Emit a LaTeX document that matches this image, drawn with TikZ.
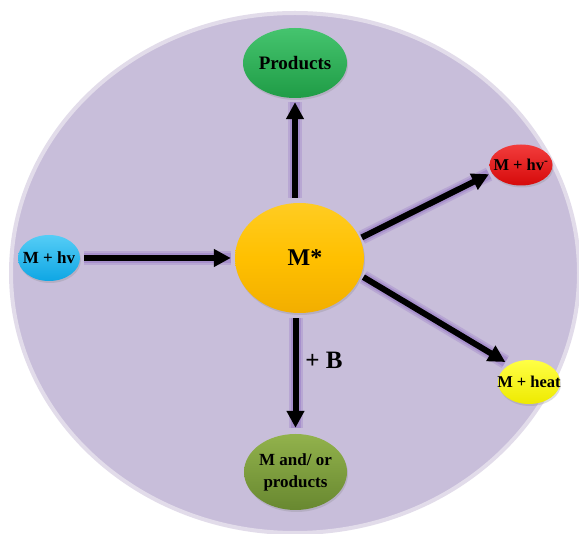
\documentclass[tikz,border=0pt]{standalone}
\usepackage{fontspec}
\setmainfont{Liberation Serif}
\usetikzlibrary{shapes.geometric,arrows.meta,calc,shadows}
\definecolor{bgc}{HTML}{C8BEDA}
\definecolor{rimc}{HTML}{E2DCEA}
\definecolor{glowc}{HTML}{8A66C0}
\definecolor{mstT}{HTML}{FFCC22}
\definecolor{mstM}{HTML}{FFC000}
\definecolor{mstB}{HTML}{F2AE00}
\definecolor{prT}{HTML}{45C46E}
\definecolor{prB}{HTML}{1F9C46}
\definecolor{hvT}{HTML}{55CDF6}
\definecolor{hvB}{HTML}{0EA6E4}
\definecolor{rdT}{HTML}{F23C3C}
\definecolor{rdB}{HTML}{D60A0A}
\definecolor{ylT}{HTML}{FFFF45}
\definecolor{ylB}{HTML}{EEEA00}
\definecolor{olT}{HTML}{92B24C}
\definecolor{olB}{HTML}{688830}
\pgfdeclarelayer{bg}
\pgfdeclarelayer{arrlayer}
\pgfsetlayers{bg,arrlayer,main}
\tikzset{
  blob/.style={ellipse, inner sep=0pt, draw=none, text=black,
    drop shadow={shadow xshift=1pt, shadow yshift=-2pt, opacity=.25}},
  arr/.style={line width=6pt, draw=black, -{Triangle[length=17pt,width=17pt]},
    preaction={draw=glowc, line width=14pt, opacity=0.25, arrows=-},
    preaction={draw=glowc, line width=10pt, opacity=0.35, arrows=-}},
  lbl/.style={inner sep=0pt, text=black}
}
\begin{document}
\begin{tikzpicture}[x=1pt,y=-1pt]
\useasboundingbox (0,0) rectangle (579,534);
\clip (0,0) rectangle (579,534);
\begin{pgfonlayer}{bg}
\fill[white] (0,0) rectangle (579,534);
\draw[fill=bgc, draw=rimc, line width=4pt] (295,273) ellipse [x radius=284pt, y radius=260pt];
\end{pgfonlayer}

\node[blob, minimum width=129pt, minimum height=110pt, top color=mstT, bottom color=mstB, middle color=mstM,
  font=\fontsize{24}{28}\selectfont\bfseries] (mstar) at (299.5,258) {\makebox[0pt]{\hspace*{11pt}M*}};
\node[blob, minimum width=104pt, minimum height=70pt, top color=prT, bottom color=prB,
  font=\fontsize{19}{22}\selectfont\bfseries] (prod) at (295,63) {\makebox[0pt]{Products}};
\node[blob, minimum width=62pt, minimum height=46pt, top color=hvT, bottom color=hvB,
  font=\fontsize{17}{20}\selectfont\bfseries] (hv) at (49,258) {\makebox[0pt]{M + hv}};
\node[blob, minimum width=63pt, minimum height=41pt, top color=rdT, bottom color=rdB,
  font=\fontsize{16.5}{19}\selectfont\bfseries] (hvm) at (521,165) {\makebox[0pt]{M + hv\textsuperscript{-}}};
\node[blob, minimum width=62pt, minimum height=44pt, top color=ylT, bottom color=ylB,
  font=\fontsize{16.5}{19}\selectfont\bfseries] (heat) at (529,382) {\makebox[0pt]{M + heat}};
\node[blob, minimum width=103pt, minimum height=76pt, top color=olT, bottom color=olB,
  font=\fontsize{17}{22}\selectfont\bfseries] (mand) at (295.5,472)
  {\makebox[0pt]{\begin{tabular}{@{}c@{}}M and/ or\\products\end{tabular}}};

\node[lbl, font=\fontsize{25}{28}\selectfont\bfseries] (plusb) at (324,360) {+ B};

\begin{pgfonlayer}{arrlayer}
\draw[arr, shorten <=5pt, shorten >=4pt] (prod.south |- mstar.north) -- (prod.south);
\draw[arr, shorten <=4pt, shorten >=4pt] (hv) -- (mstar);
\draw[arr, shorten <=5pt, shorten >=6pt] (mand.north |- mstar.south) -- (mand.north);
\draw[arr, shorten <=2pt, shorten >=3pt] (mstar.18) -- (hvm.195);
\draw[arr, shorten <=3pt, shorten >=5pt] (mstar.-16) -- (heat.138);
\end{pgfonlayer}
\end{tikzpicture}
\end{document}
